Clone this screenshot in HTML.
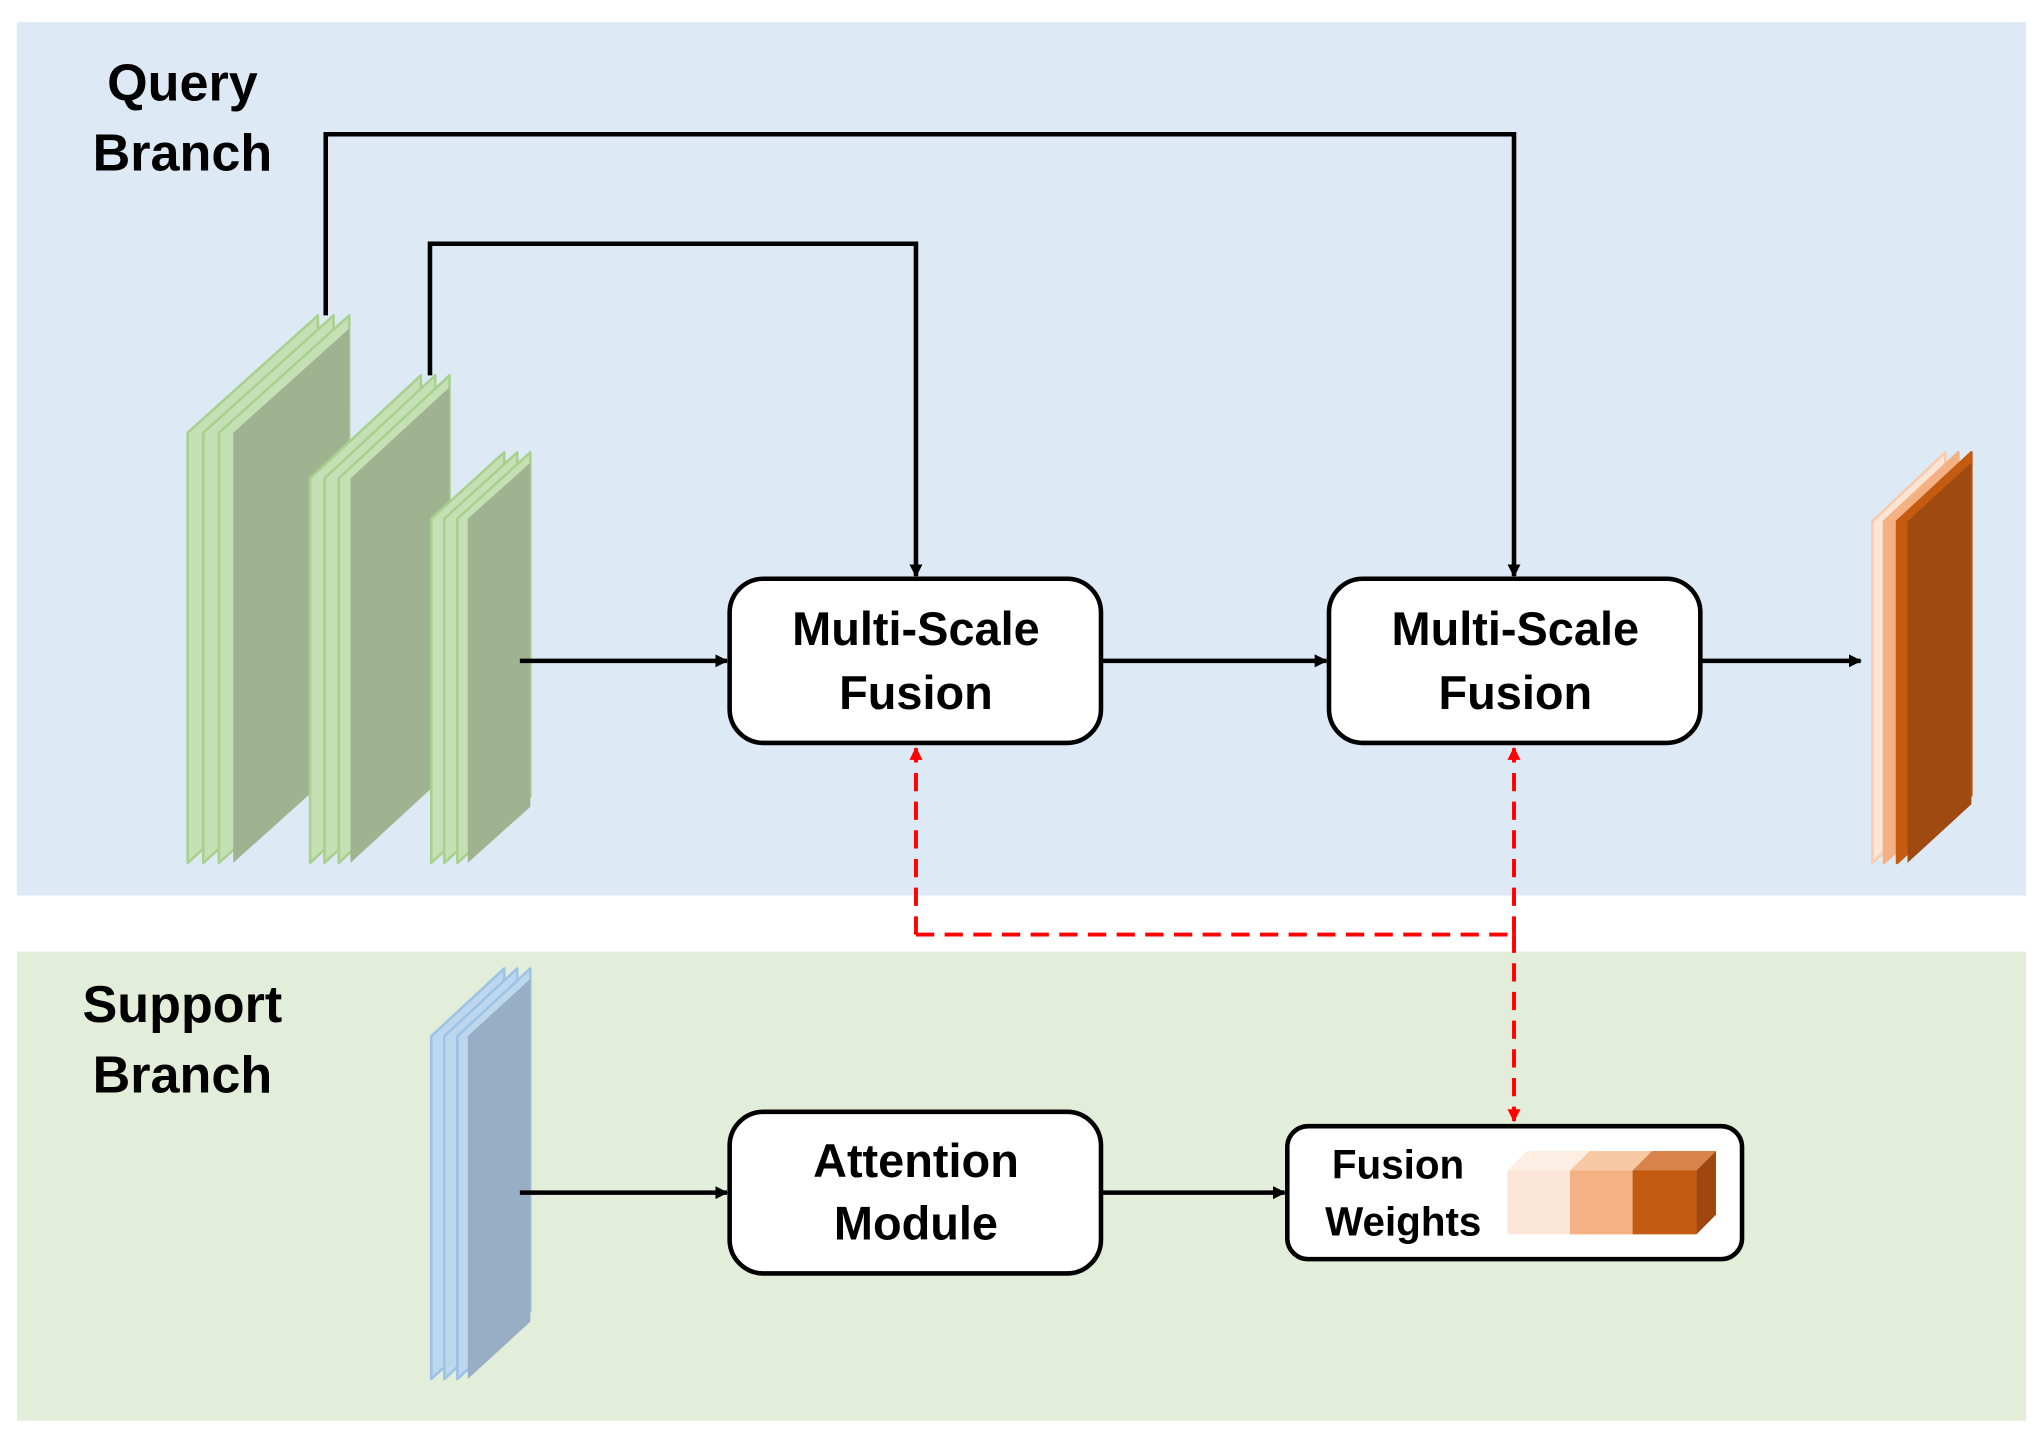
<!DOCTYPE html>
<html><head><meta charset="utf-8"><style>html,body{margin:0;padding:0;background:#fff}svg{display:block}</style></head>
<body>
<svg width="2043" height="1439" viewBox="0 0 1568 1104" preserveAspectRatio="none" xmlns="http://www.w3.org/2000/svg" font-family="Liberation Sans, sans-serif">
<defs>
<marker id="a" markerWidth="10" markerHeight="10" refX="9" refY="5" orient="auto" markerUnits="userSpaceOnUse"><path d="M0,0 L10,5 L0,10 z" fill="#000"/></marker>
<marker id="r" markerWidth="10" markerHeight="10" refX="9" refY="5" orient="auto" markerUnits="userSpaceOnUse"><path d="M0,0 L10,5 L0,10 z" fill="#f00"/></marker>
</defs>
<rect x="13" y="17" width="1542" height="670" fill="#dde9f5"/>
<rect x="13" y="730" width="1542" height="360" fill="#e2eed9"/>
<g font-size="40" fill="#000" text-anchor="middle" font-weight="bold">
<text x="140" y="77">Query</text><text x="140" y="131">Branch</text>
<text x="140" y="784">Support</text><text x="140" y="838">Branch</text>
</g>
<g stroke-width="2" stroke-linejoin="round">
<g stroke="#a9d18e">
<path d="M144,662 L144,332 L244,242 L244,572 Z" fill="#c5e0b4"/>
<path d="M156,662 L156,332 L256,242 L256,572 Z" fill="#c5e0b4"/>
<path d="M168,662 L168,332 L268,242 L268,572 Z" fill="#c5e0b4"/>
<path d="M179,662 L179,332 L268,252 L268,582 Z" fill="#9fb391" stroke="none"/>
<path d="M238,662 L238,367 L323,288 L323,583 Z" fill="#c5e0b4"/>
<path d="M249,662 L249,367 L334,288 L334,583 Z" fill="#c5e0b4"/>
<path d="M260,662 L260,367 L345,288 L345,583 Z" fill="#c5e0b4"/>
<path d="M269,662 L269,367 L345,297 L345,592 Z" fill="#9fb391" stroke="none"/>
<path d="M331,662 L331,398 L387,347 L387,611 Z" fill="#c5e0b4"/>
<path d="M341,662 L341,398 L397,347 L397,611 Z" fill="#c5e0b4"/>
<path d="M351,662 L351,398 L407,347 L407,611 Z" fill="#c5e0b4"/>
<path d="M359,662 L359,398 L407,355 L407,619 Z" fill="#9fb391" stroke="none"/>
</g>
<g stroke="#9dc3e6">
<path d="M331,1058 L331,795 L387,743 L387,1006 Z" fill="#bdd7ee"/>
<path d="M341,1058 L341,795 L397,743 L397,1006 Z" fill="#bdd7ee"/>
<path d="M351,1058 L351,795 L407,743 L407,1006 Z" fill="#bdd7ee"/>
<path d="M359,1058 L359,795 L407,751 L407,1014 Z" fill="#98aec4" stroke="none"/>
</g>
<path d="M1437,662 L1437,400 L1493,347 L1493,610 Z" fill="#fbe5d6" stroke="#f8cbad"/>
<path d="M1446,662 L1446,400 L1503,347 L1503,610 Z" fill="#f4b183" stroke="#f4b183"/>
<path d="M1456,662 L1456,400 L1513,347 L1513,610 Z" fill="#c55a11" stroke="#c55a11"/>
<path d="M1464,662 L1464,400 L1513,355 L1513,617 Z" fill="#9e4a10" stroke="none"/>
</g>
<g stroke="#000" stroke-width="3.5" fill="none">
<path d="M250,242 L250,103 L1162,103 L1162,442" marker-end="url(#a)"/>
<path d="M330,288 L330,187 L703,187 L703,442" marker-end="url(#a)"/>
<path d="M399,507 L558,507" marker-end="url(#a)"/>
<path d="M845,507 L1018,507" marker-end="url(#a)"/>
<path d="M1305,507 L1428,507" marker-end="url(#a)"/>
<path d="M399,915 L558,915" marker-end="url(#a)"/>
<path d="M845,915 L986,915" marker-end="url(#a)"/>
</g>
<g stroke="#f00" stroke-width="3" fill="none" stroke-dasharray="14 8">
<path d="M703,717 L703,574" marker-end="url(#r)"/>
<path d="M703,717 L1162,717"/>
<path d="M1162,717 L1162,574" marker-end="url(#r)"/>
<path d="M1162,717 L1162,860" marker-end="url(#r)"/>
</g>
<g fill="#fff" stroke="#000" stroke-width="3.5">
<rect x="560" y="444" width="285" height="126" rx="26"/>
<rect x="1020" y="444" width="285" height="126" rx="26"/>
<rect x="560" y="853" width="285" height="124" rx="26"/>
<rect x="988" y="864" width="349" height="102" rx="16"/>
</g>
<g font-size="36" text-anchor="middle" fill="#000" font-weight="bold">
<text x="703" y="495">Multi-Scale</text><text x="703" y="544">Fusion</text>
<text x="1163" y="495">Multi-Scale</text><text x="1163" y="544">Fusion</text>
<text x="703" y="903">Attention</text><text x="703" y="951">Module</text>
</g>
<g font-size="31" text-anchor="middle" fill="#000" font-weight="bold">
<text x="1073" y="904">Fusion</text><text x="1077" y="948">Weights</text>
</g>
<rect x="1157" y="898" width="48" height="49" fill="#fbe5d6"/>
<path d="M1157,898 L1172,883 L1220,883 L1205,898 Z" fill="#fdeee4"/>
<rect x="1205" y="898" width="48" height="49" fill="#f4b183"/>
<path d="M1205,898 L1220,883 L1268,883 L1253,898 Z" fill="#f8c9a4"/>
<rect x="1253" y="898" width="49" height="49" fill="#c55a11"/>
<path d="M1253,898 L1268,883 L1317,883 L1302,898 Z" fill="#d7834a"/>
<path d="M1302,898 L1317,883 L1317,932 L1302,947 Z" fill="#a0460f"/>
</svg>
</body></html>
